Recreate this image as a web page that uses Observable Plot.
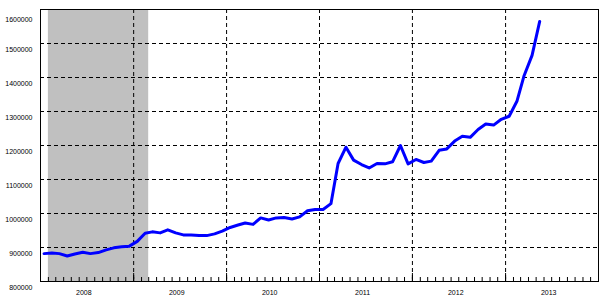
<!DOCTYPE html>
<html>
<head>
<meta charset="utf-8">
<script src="https://cdn.jsdelivr.net/npm/d3@7"></script>
<script src="https://cdn.jsdelivr.net/npm/@observablehq/plot@0.6"></script>
<style>
  html, body { margin: 0; padding: 0; background: #fff; }
  #chart { width: 609px; height: 303px; }
</style>
</head>
<body>
<div id="chart"></div>
<script>
// Monthly observations (plotted mid-month)
const months = [
  "2008-01","2008-02","2008-03","2008-04","2008-05","2008-06","2008-07","2008-08","2008-09","2008-10","2008-11","2008-12",
  "2009-01","2009-02","2009-03","2009-04","2009-05","2009-06","2009-07","2009-08","2009-09","2009-10","2009-11","2009-12",
  "2010-01","2010-02","2010-03","2010-04","2010-05","2010-06","2010-07","2010-08","2010-09","2010-10","2010-11","2010-12",
  "2011-01","2011-02","2011-03","2011-04","2011-05","2011-06","2011-07","2011-08","2011-09","2011-10","2011-11","2011-12",
  "2012-01","2012-02","2012-03","2012-04","2012-05","2012-06","2012-07","2012-08","2012-09","2012-10","2012-11","2012-12",
  "2013-01","2013-02","2013-03","2013-04","2013-05"
];
const values = [
  882000, 884000, 882000, 875000, 881000, 886000, 882000, 885000, 893000, 899000, 902000, 904000,
  918000, 942000, 946000, 943000, 952000, 943000, 937000, 937000, 935000, 935000, 940000, 948000,
  959000, 966000, 972000, 968000, 987000, 981000, 987000, 988000, 984000, 990000, 1008000, 1012000,
  1012000, 1029000, 1147000, 1195000, 1157000, 1144000, 1134000, 1147000, 1146000, 1152000, 1200000, 1146000,
  1159000, 1150000, 1154000, 1186000, 1190000, 1213000, 1227000, 1224000, 1247000, 1263000, 1260000, 1277000,
  1286000, 1331000, 1406000, 1465000, 1565000
];
// Shaded period
const shadeStart = "2008-02-01";
const shadeEnd = "2009-03-01";
// Axis
const yTickLabels = [800000, 900000, 1000000, 1100000, 1200000, 1300000, 1400000, 1500000, 1600000];
const yGrid = [900000, 1000000, 1100000, 1200000, 1300000, 1400000, 1500000];
const years = ["2008", "2009", "2010", "2011", "2012", "2013"];
const yearLines = ["2009", "2010", "2011", "2012", "2013"];
const xStart = "2008-01-01";
const xEnd = "2014-01-01";

const parse = s => new Date(s + (s.length === 7 ? "-15" : s.length === 4 ? "-07-01" : "") + "T00:00:00Z");
const data = months.map((m, i) => ({date: parse(m), value: values[i]}));
const domainX = [parse(xStart), parse(xEnd)];
const monthTicks = d3.utcMonth.range(domainX[0], domainX[1]).slice(1);
const yearTicks = years.map(y => new Date(y + "-01-01T00:00:00Z"));
const font = "'Liberation Sans', Arial, sans-serif";

const chart = Plot.plot({
  width: 609,
  height: 303,
  marginLeft: 40,
  marginRight: 11,
  marginTop: 9,
  marginBottom: 22,
  style: {fontFamily: font, background: "#fff"},
  x: {type: "utc", domain: domainX, axis: null},
  y: {domain: [800000, 1600000], axis: null},
  marks: [
    Plot.rect([{a: parse(shadeStart), b: parse(shadeEnd)}], {x1: "a", x2: "b", fill: "#c0c0c0"}),
    Plot.ruleY(yGrid, {stroke: "#000", strokeWidth: 1, strokeDasharray: "4,3"}),
    Plot.ruleX(yearLines.map(y => new Date(y + "-01-01T00:00:00Z")), {stroke: "#000", strokeWidth: 1, strokeDasharray: "4,3"}),
    Plot.ruleX(monthTicks, {stroke: "#000", strokeWidth: 1, insetTop: 268}),
    Plot.ruleX(yearTicks, {stroke: "#000", strokeWidth: 1, insetTop: 264}),
    Plot.line(data, {x: "date", y: "value", stroke: "#0000ff", strokeWidth: 3, strokeLinejoin: "round"}),
    Plot.frame({stroke: "#000", strokeWidth: 1}),
    Plot.text(yTickLabels.filter(v => v < 1600000), {y: d => d, text: d => String(d), frameAnchor: "left", textAnchor: "end", dx: -8, dy: 6, fontSize: 7, fill: "#000"}),
    Plot.text(yTickLabels.filter(v => v >= 1600000), {y: d => d, text: d => String(d), frameAnchor: "left", textAnchor: "end", dx: -8, dy: 10, fontSize: 7, fill: "#000"}),
    Plot.text(years, {x: d => parse(d), text: d => d, frameAnchor: "bottom", textAnchor: "middle", dy: 13, dx: -3, fontSize: 7, fill: "#000"})
  ]
});
document.getElementById("chart").appendChild(chart);
</script>
</body>
</html>
